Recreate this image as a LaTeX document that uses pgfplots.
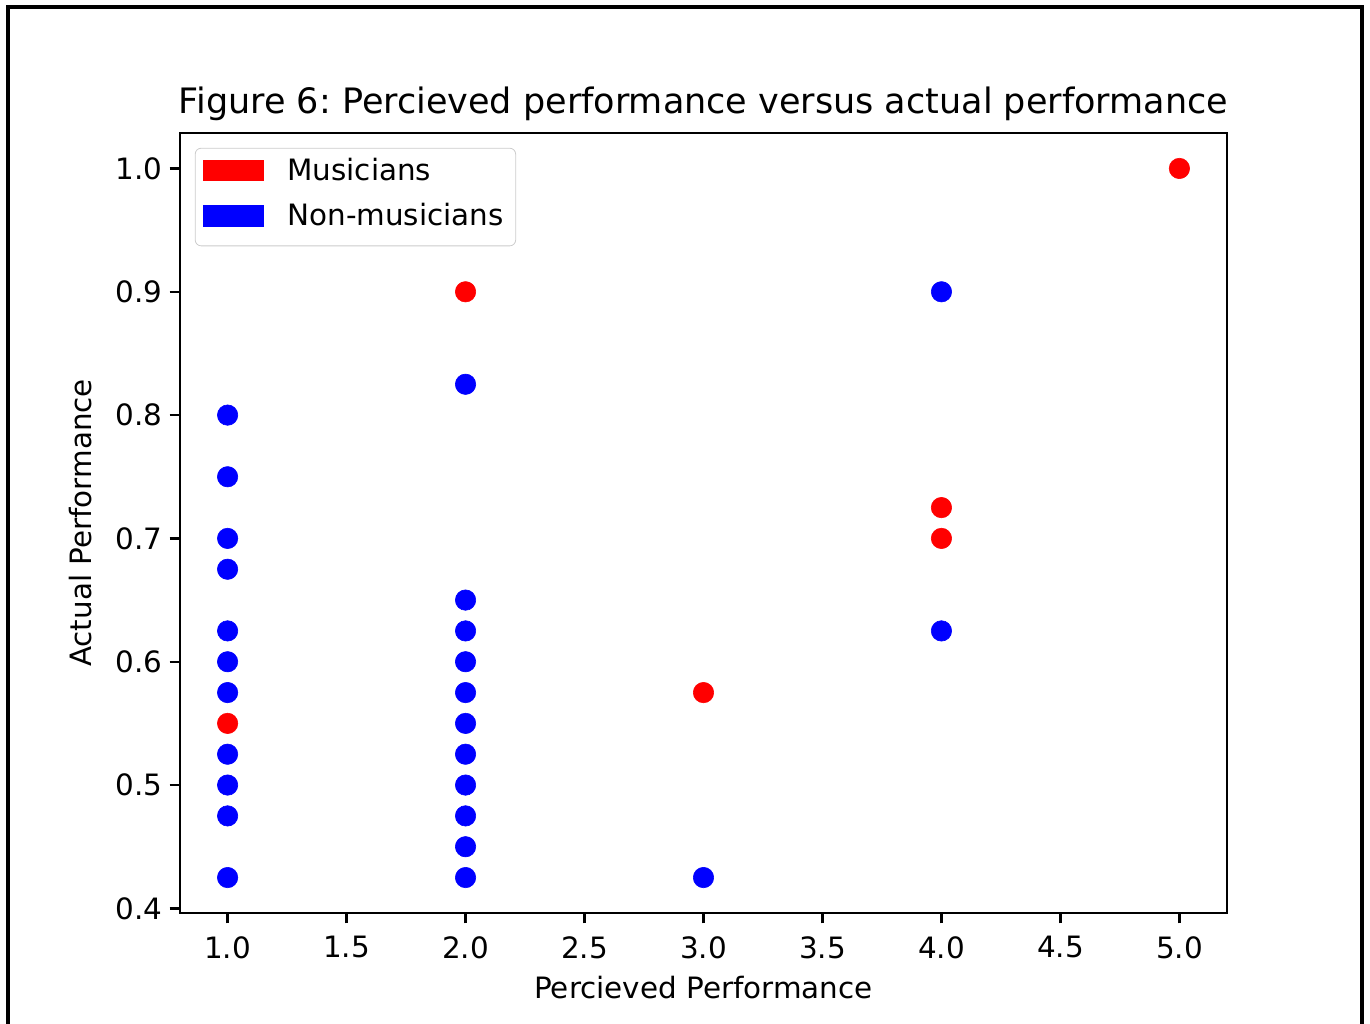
\documentclass[border=0pt]{standalone}
\usepackage{pgfplots}
\pgfplotsset{compat=1.18}
\usepackage{fontspec}
\setmainfont{DejaVu Sans}
\frenchspacing
\pgfplotstableread{
x y
1 0.800
1 0.750
1 0.700
1 0.675
1 0.625
1 0.600
1 0.575
1 0.525
1 0.500
1 0.475
1 0.425
2 0.825
2 0.650
2 0.625
2 0.600
2 0.575
2 0.550
2 0.525
2 0.500
2 0.475
2 0.450
2 0.425
3 0.425
4 0.900
4 0.625
}\nonmusicians
\pgfplotstableread{
x y
1 0.550
2 0.900
3 0.575
4 0.725
4 0.700
5 1.000
}\musicians
\begin{document}
\begin{tikzpicture}
\useasboundingbox (0,0) rectangle (685pt,511.5pt);
\draw[line width=2pt] (4pt,-3pt) -- (4pt,508pt) -- (681pt,508pt) -- (681pt,-3pt);
\begin{axis}[
  at={(90pt,55pt)}, anchor=south west, scale only axis,
  width=523.5pt, height=390pt,
  xmin=0.8, xmax=5.2, ymin=0.39625, ymax=1.02875,
  xtick={1,1.5,2,2.5,3,3.5,4,4.5,5},
  ytick={0.4,0.5,0.6,0.7,0.8,0.9,1.0},
  tick pos=left, tick align=outside,
  major tick length=5.2pt,
  every tick/.style={black, line width=1.2pt},
  axis line style={line width=1.2pt},
  /pgf/number format/assume math mode=true,
  xticklabel style={yshift=-3pt, /pgf/number format/fixed, /pgf/number format/fixed zerofill, /pgf/number format/precision=1},
  yticklabel style={/pgf/number format/fixed, /pgf/number format/fixed zerofill, /pgf/number format/precision=1},
  tick label style={font=\fontsize{14.7}{17.6}\selectfont},
  label style={font=\fontsize{14.7}{17.6}\selectfont},
  xlabel={Percieved Performance},
  xlabel style={yshift=-2pt},
  ylabel={Actual Performance},
  ylabel style={yshift=5pt},
  title={Figure 6: Percieved performance versus actual performance},
  title style={font=\fontsize{17.5}{21}\selectfont, yshift=-3.5pt},
  legend cell align=left,
  legend style={at={(0,1)}, xshift=7.4pt, yshift=-7.4pt, anchor=north west,
    draw=black!20, rounded corners=3pt, fill=white,
    font=\fontsize{14.7}{17.6}\selectfont,
    inner xsep=4pt, inner ysep=3pt, row sep=2.5pt,
    nodes={inner sep=2pt, text depth=5pt},
    /tikz/every odd column/.append style={column sep=10pt}},
]
\addplot[only marks, mark=*, mark size=5.1pt, draw=blue, fill=blue, mark options={line width=0.3pt}, forget plot] table {\nonmusicians};
\addplot[only marks, mark=*, mark size=5.1pt, draw=red, fill=red, mark options={line width=0.3pt}, forget plot] table {\musicians};
\addlegendimage{legend image code/.code={\fill[red, sharp corners] (0pt,-3.2pt) rectangle (29.7pt,7.2pt);}}
\addlegendentry{Musicians}
\addlegendimage{legend image code/.code={\fill[blue, sharp corners] (0pt,-3.2pt) rectangle (29.7pt,7.2pt);}}
\addlegendentry{Non-musicians}
\end{axis}
\end{tikzpicture}
\end{document}
